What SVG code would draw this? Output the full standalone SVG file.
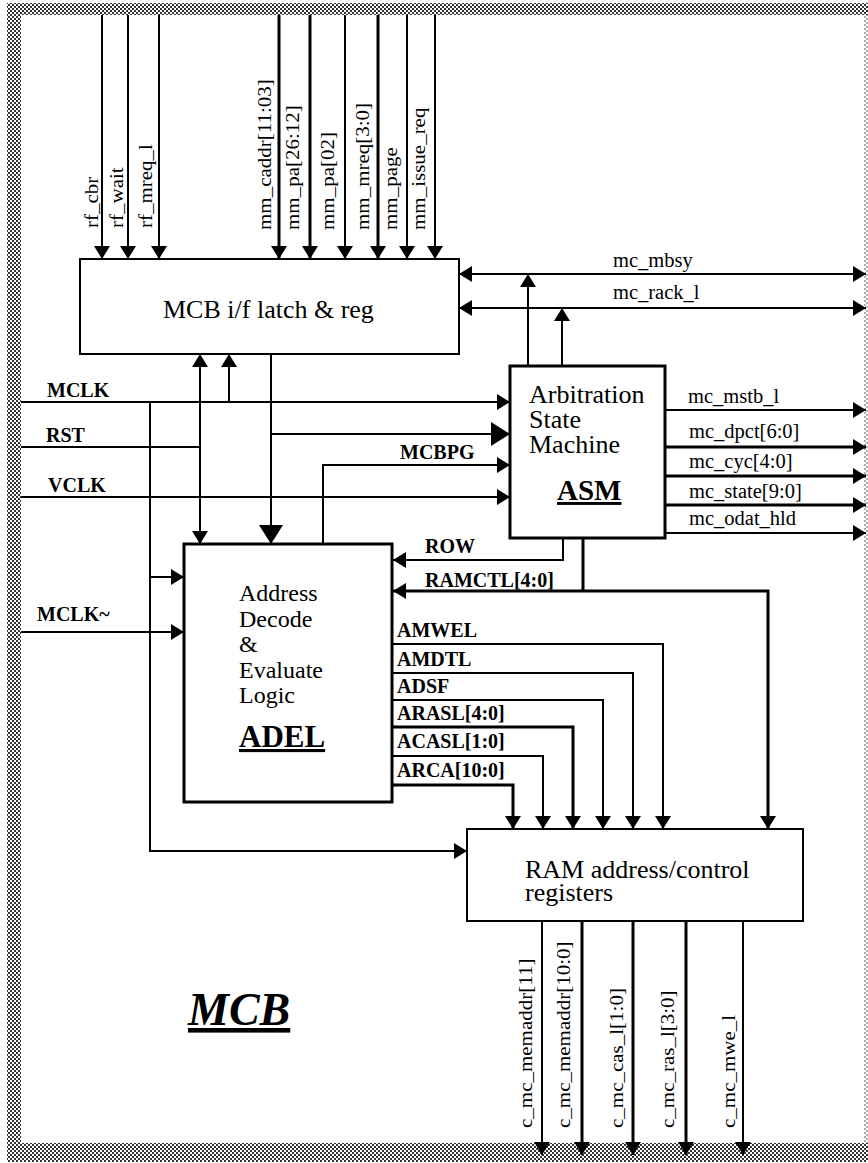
<svg xmlns="http://www.w3.org/2000/svg" width="868" height="1163" viewBox="0 0 868 1163">
<defs>
<pattern id="chk" width="4" height="4" patternUnits="userSpaceOnUse">
<rect width="4" height="4" fill="#fff"/>
<rect width="2" height="2" fill="#333"/>
<rect x="2" y="2" width="2" height="2" fill="#333"/>
</pattern>
<marker id="ah" markerUnits="userSpaceOnUse" markerWidth="13" markerHeight="16" refX="13" refY="8" orient="auto-start-reverse" viewBox="0 0 13 16">
<path d="M0,0 L13,8 L0,16 Z" fill="#000"/>
</marker>
<marker id="ahb" markerUnits="userSpaceOnUse" markerWidth="19" markerHeight="24" refX="19" refY="12" orient="auto" viewBox="0 0 19 24">
<path d="M0,0 L19,12 L0,24 Z" fill="#000"/>
</marker>
<style>
.box{fill:#fff;stroke:#000}
.c{fill:none;stroke:#000;stroke-width:2}
.a{marker-end:url(#ah)}
.d{marker-start:url(#ah);marker-end:url(#ah)}
.t3{stroke-width:3}
.lbl{font-family:"Liberation Serif","Times New Roman",serif;font-size:20.5px;fill:#000}
.lb{font-family:"Liberation Serif","Times New Roman",serif;font-size:20px;font-weight:bold;fill:#000}
.vl{font-family:"Liberation Serif","Times New Roman",serif;font-size:21px;fill:#000}
.big{font-family:"Liberation Serif","Times New Roman",serif;fill:#000}
</style>
</defs>
<rect width="868" height="1163" fill="#fff"/>
<g id="border" fill="url(#chk)">
<rect x="7" y="3" width="861" height="12"/>
<rect x="7" y="3" width="14" height="1159"/>
<rect x="7" y="1143" width="861" height="19"/>
<rect x="864" y="3" width="4" height="1159" opacity="0.4"/>
</g>
<g id="mcb_if">
<rect class="box" x="80" y="259" width="379" height="95" stroke-width="2"/>
<text class="big" x="163" y="318" font-size="26">MCB i/f latch &amp; reg</text>
</g>
<g id="asm">
<rect class="box" x="510" y="366" width="155" height="172" stroke-width="3"/>
<text class="big" x="529" y="403" font-size="26">Arbitration</text>
<text class="big" x="529" y="428" font-size="26">State</text>
<text class="big" x="529" y="453" font-size="26">Machine</text>
<text class="big" x="557" y="500" font-size="29" font-weight="bold" text-decoration="underline">ASM</text>
</g>
<g id="adel">
<rect class="box" x="184" y="544" width="208" height="258" stroke-width="3"/>
<text class="big" x="239" y="601" font-size="24">Address</text>
<text class="big" x="239" y="627" font-size="24">Decode</text>
<text class="big" x="239" y="652" font-size="24">&amp;</text>
<text class="big" x="239" y="678" font-size="24">Evaluate</text>
<text class="big" x="239" y="703" font-size="24">Logic</text>
<text class="big" x="239" y="747" font-size="31" font-weight="bold" text-decoration="underline">ADEL</text>
</g>
<g id="ram">
<rect class="box" x="467" y="829" width="336" height="92" stroke-width="2"/>
<text class="big" x="525" y="878" font-size="26">RAM address/control</text>
<text class="big" x="525" y="901" font-size="26">registers</text>
</g>
<g id="title">
<text class="big" x="188" y="1025" font-size="46" font-weight="bold" font-style="italic" text-decoration="underline">MCB</text>
</g>
<g id="connectors">
<path class="c a" d="M102,15 V259"/>
<path class="c a" d="M128,15 V259"/>
<path class="c a" d="M159,15 V259"/>
<path class="c a t3" d="M279,15 V259"/>
<path class="c a t3" d="M310,15 V259"/>
<path class="c a" d="M345,15 V259"/>
<path class="c a t3" d="M378,15 V259"/>
<path class="c a" d="M407,15 V259"/>
<path class="c a" d="M435,15 V259"/>
<path class="c d" d="M459,274 H866"/>
<path class="c d" d="M459,308 H866"/>
<path class="c a" d="M528,366 V274"/>
<path class="c a" d="M562,366 V308"/>
<path class="c a" d="M665,410 H866"/>
<path class="c a t3" d="M665,447 H866"/>
<path class="c a t3" d="M665,476 H866"/>
<path class="c a t3" d="M665,505 H866"/>
<path class="c a" d="M665,533 H866"/>
<path class="c a" d="M21,402 H510"/>
<path class="c" d="M21,447 H200"/>
<path class="c a" d="M21,497 H510"/>
<path class="c a" d="M229,402 V354"/>
<path class="c d" d="M200,354 V544"/>
<path class="c a" d="M150,402 V851 H467"/>
<path class="c a" d="M150,577 H184"/>
<path class="c a" d="M21,632 H184"/>
<path class="c" d="M271,354 V544" stroke-width="5" marker-end="url(#ahb)"/>
<path class="c" d="M271,434 H510" stroke-width="5" marker-end="url(#ahb)"/>
<path class="c a" d="M323,544 V465 H510"/>
<path class="c a" d="M563,538 V560 H393"/>
<path class="c t3" d="M583,538 V591"/>
<path class="c d t3" d="M393,591 H768 V829"/>
<path class="c a" d="M392,644 H663 V829"/>
<path class="c a" d="M392,673 H633 V829"/>
<path class="c a" d="M392,700 H603 V829"/>
<path class="c a t3" d="M392,727 H573 V829"/>
<path class="c a" d="M392,756 H543 V829"/>
<path class="c a t3" d="M392,785 H513 V829"/>
<path class="c a" d="M542,921 V1155"/>
<path class="c a t3" d="M582,921 V1155"/>
<path class="c a t3" d="M633,921 V1155"/>
<path class="c a t3" d="M686,921 V1155"/>
<path class="c a" d="M743,921 V1155"/>
</g>
<g id="labels">
<text class="vl" transform="translate(98,228) rotate(-90) scale(1,0.9)">rf_cbr</text>
<text class="vl" transform="translate(123,228) rotate(-90) scale(1,0.9)">rf_wait</text>
<text class="vl" transform="translate(152,228) rotate(-90) scale(1,0.9)">rf_mreq_l</text>
<text class="vl" transform="translate(271,230) rotate(-90) scale(1,0.9)">mm_caddr[11:03]</text>
<text class="vl" transform="translate(299,230) rotate(-90) scale(1,0.9)">mm_pa[26:12]</text>
<text class="vl" transform="translate(334,230) rotate(-90) scale(1,0.9)">mm_pa[02]</text>
<text class="vl" transform="translate(369,230) rotate(-90) scale(1,0.9)">mm_mreq[3:0]</text>
<text class="vl" transform="translate(397,230) rotate(-90) scale(1,0.9)">mm_page</text>
<text class="vl" transform="translate(425,230) rotate(-90) scale(1,0.9)">mm_issue_req</text>
<text class="vl" transform="translate(532,1128) rotate(-90) scale(1,0.9)">c_mc_memaddr[11]</text>
<text class="vl" transform="translate(570,1128) rotate(-90) scale(1,0.9)">c_mc_memaddr[10:0]</text>
<text class="vl" transform="translate(623,1128) rotate(-90) scale(1,0.9)">c_mc_cas_l[1:0]</text>
<text class="vl" transform="translate(674,1128) rotate(-90) scale(1,0.9)">c_mc_ras_l[3:0]</text>
<text class="vl" transform="translate(735,1128) rotate(-90) scale(1,0.9)">c_mc_mwe_l</text>
<text class="lbl" x="613" y="267">mc_mbsy</text>
<text class="lbl" x="613" y="299">mc_rack_l</text>
<text class="lbl" x="688" y="403">mc_mstb_l</text>
<text class="lbl" x="689" y="438">mc_dpct[6:0]</text>
<text class="lbl" x="689" y="468">mc_cyc[4:0]</text>
<text class="lbl" x="689" y="498">mc_state[9:0]</text>
<text class="lbl" x="689" y="525">mc_odat_hld</text>
<text class="lb" x="47" y="397">MCLK</text>
<text class="lb" x="46" y="442">RST</text>
<text class="lb" x="48" y="492">VCLK</text>
<text class="lb" x="37" y="621">MCLK~</text>
<text class="lb" x="400" y="459">MCBPG</text>
<text class="lb" x="425" y="553">ROW</text>
<text class="lb" x="425" y="587">RAMCTL[4:0]</text>
<text class="lb" x="397" y="637">AMWEL</text>
<text class="lb" x="397" y="666">AMDTL</text>
<text class="lb" x="397" y="693">ADSF</text>
<text class="lb" x="397" y="720">ARASL[4:0]</text>
<text class="lb" x="397" y="748">ACASL[1:0]</text>
<text class="lb" x="397" y="777">ARCA[10:0]</text>
</g>
</svg>
